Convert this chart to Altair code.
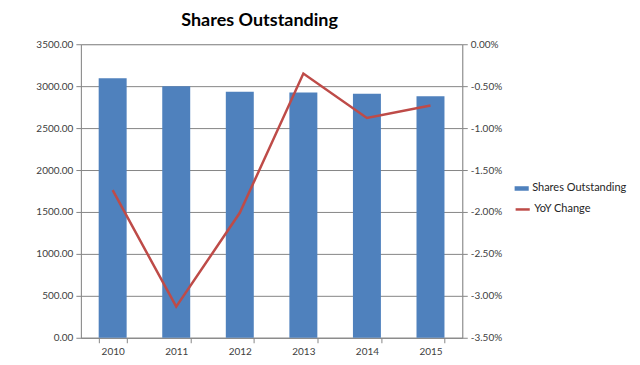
import altair as alt
import pandas as pd

years = ["2010", "2011", "2012", "2013", "2014", "2015"]
shares = [3095, 3000, 2932, 2925, 2908, 2881]
yoy = [-0.0174, -0.0313, -0.0201, -0.0035, -0.0088, -0.0073]

df = pd.DataFrame({"Year": years, "Shares": shares, "YoY": yoy,
                   "s1": "Shares Outstanding", "s2": "YoY Change"})

FONT = "Lato"
AX = "#868686"

x = alt.X("Year:N", title=None, sort=years,
          scale=alt.Scale(paddingInner=0.56, paddingOuter=0.28),
          axis=alt.Axis(labelAngle=0, tickBand="extent", domainColor=AX, tickColor=AX,
                        labelColor="#404040", labelFontSize=10, labelFont=FONT, tickSize=5,
                        labelPadding=4, grid=False))

bars = alt.Chart(df).mark_bar(color="#4F81BD").encode(
    x=x,
    y=alt.Y("Shares:Q", title=None,
            scale=alt.Scale(domain=[0, 3500], nice=False),
            axis=alt.Axis(values=[0, 500, 1000, 1500, 2000, 2500, 3000, 3500], format=".2f",
                          domainColor=AX, tickColor=AX, gridColor=AX, gridWidth=1,
                          labelColor="#404040", labelFontSize=10, labelFont=FONT,
                          tickSize=5, labelPadding=3)),
    color=alt.Color("s1:N", scale=alt.Scale(range=["#4F81BD"]),
                    legend=alt.Legend(title=None, orient="none", legendX=434, legendY=137,
                                      symbolType="M-1,-0.32L1,-0.32L1,0.32L-1,0.32Z",
                                      symbolSize=200, labelFont=FONT, labelOffset=3,
                                      labelFontSize=11, labelColor="#262626", symbolStrokeWidth=0)),
)

line = alt.Chart(df).mark_line(color="#BE4B48", strokeWidth=2.5).encode(
    x=x,
    y=alt.Y("YoY:Q", title=None,
            scale=alt.Scale(domain=[-0.035, 0], nice=False),
            axis=alt.Axis(orient="right", values=[0, -0.005, -0.01, -0.015, -0.02, -0.025, -0.03, -0.035],
                          format=".2%", labelExpr="replace(datum.label, '\u2212', '-')",
                          domainColor=AX, tickColor=AX, grid=False,
                          labelColor="#404040", labelFontSize=10, labelFont=FONT,
                          tickSize=5, labelPadding=3)),
    color=alt.Color("s2:N", scale=alt.Scale(range=["#BE4B48"]),
                    legend=alt.Legend(title=None, orient="none", legendX=434, legendY=157,
                                      symbolType="stroke", symbolStrokeWidth=2.5, symbolSize=200,
                                      labelOffset=3,
                                      labelFont=FONT, labelFontSize=11, labelColor="#262626")),
)

chart = alt.layer(bars, line).resolve_scale(y="independent", color="independent").properties(
    width=382, height=294,
    autosize=alt.AutoSizeParams(type="none"),
    padding={"left": 73, "top": 36, "right": 170, "bottom": 20},
    title=alt.TitleParams("Shares Outstanding", font=FONT, fontSize=18, fontWeight="bold",
                          color="#000000", anchor="middle", offset=9, dx=-12),
).configure_view(stroke=None).configure(background="white")

chart.save("out.html", embed_options={"renderer": "svg", "actions": False})
